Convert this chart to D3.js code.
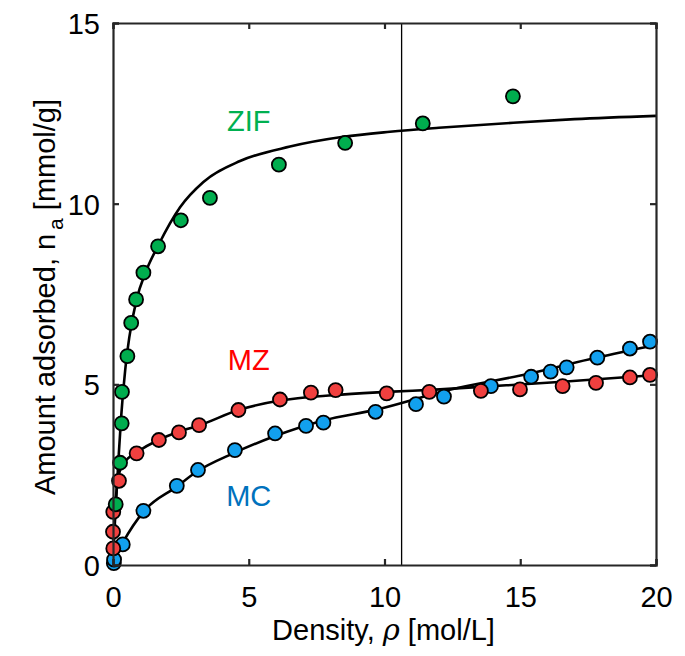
<!DOCTYPE html>
<html>
<head>
<meta charset="utf-8">
<script src="https://cdn.jsdelivr.net/npm/d3@7"></script>
<style>
html,body{margin:0;padding:0;background:#fff;}
svg{display:block;}
text{font-family:"Liberation Sans",Arial,Helvetica,sans-serif;}
</style>
</head>
<body>
<svg id="chart" width="685" height="656"></svg>
<script>
// ---- data ----
const xTicks = [0, 5, 10, 15, 20];
const yTicks = [0, 5, 10, 15];
const markerLine = 10.63;

const zifX = [0.10, 0.26, 0.32, 0.33, 0.53, 0.67, 0.85, 1.12, 1.66, 2.50, 3.57, 6.11, 8.55, 11.41, 14.73];
const zifY = [1.68, 2.83, 3.92, 4.79, 5.78, 6.70, 7.35, 8.09, 8.82, 9.54, 10.16, 11.08, 11.68, 12.22, 12.97];

const mzX = [0.01, 0.00, 0.01, 0.22, 0.87, 1.69, 2.43, 3.17, 4.62, 6.15, 7.29, 8.20, 10.08, 11.65, 13.55, 14.99, 16.56, 17.79, 19.04, 19.78];
const mzY = [0.46, 0.92, 1.47, 2.33, 3.09, 3.46, 3.67, 3.87, 4.29, 4.58, 4.77, 4.84, 4.75, 4.79, 4.82, 4.86, 4.95, 5.04, 5.19, 5.26];

const mcX = [0.03, 0.04, 0.36, 1.12, 2.35, 3.13, 4.49, 5.97, 7.11, 7.75, 9.67, 11.16, 12.19, 13.92, 15.40, 16.12, 16.71, 17.84, 19.04, 19.78];
const mcY = [0.05, 0.15, 0.57, 1.50, 2.19, 2.63, 3.18, 3.64, 3.85, 3.94, 4.24, 4.45, 4.66, 4.95, 5.21, 5.35, 5.47, 5.74, 5.99, 6.18];

// fitted curves
const zifFitX = [0, 0.05, 0.1, 0.2, 0.3, 0.45, 0.6, 0.87, 1.2, 1.67, 2.47, 3.33, 4.68, 6.52, 8.48, 10.2, 12, 14.74, 17, 20];
const zifFitY = [0, 0.9, 1.6, 2.9, 4.1, 5.4, 6.3, 7.35, 8.1, 8.85, 9.9, 10.6, 11.18, 11.58, 11.85, 11.99, 12.1, 12.24, 12.34, 12.43];

const mzFitX = [0, 0.03, 0.08, 0.15, 0.3, 0.55, 0.87, 1.67, 2.4, 3.2, 4.62, 6.15, 8.11, 10.08, 12.04, 13.55, 16.56, 20];
const mzFitY = [0, 0.8, 1.6, 2.2, 2.7, 2.95, 3.12, 3.46, 3.68, 3.87, 4.29, 4.55, 4.70, 4.79, 4.86, 4.93, 5.07, 5.26];

const mcFitX = [0, 0.1, 0.36, 1.15, 2.35, 3.08, 4.43, 5.9, 7.75, 9.7, 12.4, 15.36, 17.82, 20];
const mcFitY = [0, 0.25, 0.62, 1.5, 2.17, 2.58, 3.09, 3.55, 4.0, 4.3, 4.85, 5.30, 5.74, 6.09];

const labels = ["ZIF", "MZ", "MC"];
const labelX = [5, 5, 5];
const labelY = [12.0, 5.4, 1.62];

// ---- drawing ----
const svg = d3.select("#chart");
const L = 113, R = 656, T = 23, B = 565;
const x = d3.scaleLinear().domain([0, 20]).range([L, R]);
const y = d3.scaleLinear().domain([0, 15]).range([B, T]);

const axisColor = "#262626";

// vertical reference line
svg.append("line")
  .attr("x1", x(markerLine)).attr("x2", x(markerLine))
  .attr("y1", y(15)).attr("y2", y(0))
  .attr("stroke", "#000").attr("stroke-width", 1.3);

// fit curves
const line = d3.line().x(d => x(d[0])).y(d => y(d[1])).curve(d3.curveMonotoneX);
const fits = [[zifFitX, zifFitY], [mzFitX, mzFitY], [mcFitX, mcFitY]];
fits.forEach(([fx, fy]) => {
  svg.append("path")
    .datum(fx.map((v, i) => [v, fy[i]]))
    .attr("d", line)
    .attr("fill", "none")
    .attr("stroke", "#000")
    .attr("stroke-width", 2.6);
});

// data points
const series = [
  {xs: mcX, ys: mcY, color: "#12a0ee"},
  {xs: mzX, ys: mzY, color: "#f0403f"},
  {xs: zifX, ys: zifY, color: "#00ad4e"}
];
series.forEach(s => {
  svg.append("g").selectAll("circle")
    .data(s.xs.map((v, i) => [v, s.ys[i]]))
    .join("circle")
    .attr("cx", d => x(d[0]))
    .attr("cy", d => y(d[1]))
    .attr("r", 7)
    .attr("fill", s.color)
    .attr("stroke", "#000")
    .attr("stroke-width", 1.8);
});

// axes box
const gx = svg.append("g").attr("transform", `translate(0,${B})`)
  .call(d3.axisBottom(x).tickValues(xTicks).tickSize(-6).tickPadding(21).tickFormat(d3.format("d")));
const gxt = svg.append("g").attr("transform", `translate(0,${T})`)
  .call(d3.axisTop(x).tickValues(xTicks).tickSize(-6).tickFormat(""));
const gy = svg.append("g").attr("transform", `translate(${L},0)`)
  .call(d3.axisLeft(y).tickValues(yTicks).tickSize(-6).tickPadding(13).tickFormat(d3.format("d")));
const gyr = svg.append("g").attr("transform", `translate(${R},0)`)
  .call(d3.axisRight(y).tickValues(yTicks).tickSize(-6).tickFormat(""));
[gx, gxt, gy, gyr].forEach(g => {
  g.select(".domain").attr("stroke", axisColor).attr("stroke-width", 2.2);
  g.selectAll(".tick line").attr("stroke", axisColor).attr("stroke-width", 2.2);
  g.selectAll(".tick text").attr("fill", "#000").style("font-size", "29px")
    .style("font-family", '"Liberation Sans",Arial,sans-serif');
});
gx.selectAll(".tick text").attr("dy", "0.71em");
gy.selectAll(".tick text").attr("dy", "0.36em");

// axis titles
const xt = svg.append("text")
  .attr("x", (L + R) / 2 - 1).attr("y", 640)
  .attr("text-anchor", "middle").style("font-size", "29px").attr("fill", "#000");
xt.append("tspan").text("Density, ");
xt.append("tspan").text("ρ").style("font-style", "italic").style("font-family", '"DejaVu Serif",serif');
xt.append("tspan").text(" [mol/L]");

const yt = svg.append("text")
  .attr("transform", `translate(55,${(T + B) / 2 + 3}) rotate(-90)`)
  .attr("text-anchor", "middle").style("font-size", "29px").attr("fill", "#000");
yt.append("tspan").text("Amount adsorbed, n");
yt.append("tspan").text("a").attr("dx", 4).attr("dy", 8).style("font-size", "21px");
yt.append("tspan").text(" [mmol/g]").attr("dy", -8);

// series labels
const labelColors = ["#00b050", "#ff0000", "#0072bd"];
labels.forEach((t, i) => {
  svg.append("text")
    .attr("x", x(labelX[i])).attr("y", y(labelY[i]))
    .attr("text-anchor", "middle")
    .style("font-size", "29px")
    .attr("fill", labelColors[i])
    .text(t);
});
</script>
</body>
</html>
